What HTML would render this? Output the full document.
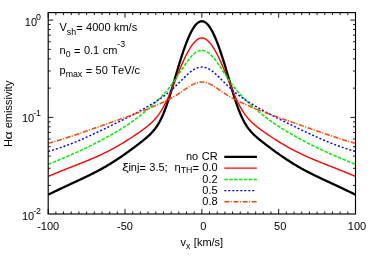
<!DOCTYPE html>
<html><head><meta charset="utf-8"><style>
html,body{margin:0;padding:0;background:#fff;}
svg{display:block;}
text{font-kerning:none;word-spacing:0.4px;font-family:"Liberation Sans",sans-serif;font-size:11.0px;fill:#000;}
.s{font-size:8.8px;}
</style></head><body>
<svg style="will-change:transform" width="374" height="262" viewBox="0 0 374 262">
<rect width="374" height="262" fill="#fff"/>
<clipPath id="c"><rect x="48.2" y="12.6" width="307.3" height="201.4"/></clipPath>
<g clip-path="url(#c)">
<path d="M48.20,194.70 L48.97,194.32 L49.74,193.94 L50.50,193.56 L51.27,193.19 L52.04,192.81 L52.81,192.44 L53.58,192.07 L54.35,191.69 L55.11,191.32 L55.88,190.95 L56.65,190.59 L57.42,190.22 L58.19,189.85 L58.96,189.49 L59.72,189.13 L60.49,188.76 L61.26,188.40 L62.03,188.04 L62.80,187.68 L63.56,187.32 L64.33,186.96 L65.10,186.60 L65.87,186.25 L66.64,185.89 L67.41,185.53 L68.17,185.17 L68.94,184.82 L69.71,184.46 L70.48,184.11 L71.25,183.75 L72.02,183.40 L72.78,183.04 L73.55,182.69 L74.32,182.33 L75.09,181.97 L75.86,181.62 L76.63,181.26 L77.39,180.90 L78.16,180.55 L78.93,180.19 L79.70,179.83 L80.47,179.47 L81.23,179.11 L82.00,178.74 L82.77,178.38 L83.54,178.02 L84.31,177.65 L85.08,177.28 L85.84,176.91 L86.61,176.54 L87.38,176.17 L88.15,175.80 L88.92,175.42 L89.69,175.04 L90.45,174.66 L91.22,174.28 L91.99,173.89 L92.76,173.51 L93.53,173.12 L94.30,172.72 L95.06,172.33 L95.83,171.93 L96.60,171.53 L97.37,171.12 L98.14,170.72 L98.90,170.30 L99.67,169.89 L100.44,169.47 L101.21,169.05 L101.98,168.63 L102.75,168.20 L103.51,167.76 L104.28,167.33 L105.05,166.89 L105.82,166.44 L106.59,166.00 L107.36,165.54 L108.12,165.09 L108.89,164.63 L109.66,164.16 L110.43,163.70 L111.20,163.22 L111.96,162.75 L112.73,162.27 L113.50,161.78 L114.27,161.29 L115.04,160.80 L115.81,160.30 L116.57,159.80 L117.34,159.29 L118.11,158.78 L118.88,158.27 L119.65,157.75 L120.42,157.23 L121.18,156.70 L121.95,156.18 L122.72,155.64 L123.49,155.11 L124.26,154.57 L125.02,154.03 L125.79,153.48 L126.56,152.93 L127.33,152.38 L128.10,151.82 L128.87,151.27 L129.63,150.70 L130.40,150.14 L131.17,149.58 L131.94,149.01 L132.71,148.44 L133.48,147.87 L134.24,147.29 L135.01,146.71 L135.78,146.13 L136.55,145.55 L137.32,144.97 L138.09,144.38 L138.85,143.79 L139.62,143.20 L140.39,142.60 L141.16,142.00 L141.93,141.40 L142.69,140.78 L143.46,140.17 L144.23,139.54 L145.00,138.91 L145.77,138.26 L146.54,137.61 L147.30,136.94 L148.07,136.25 L148.84,135.55 L149.61,134.82 L150.38,134.07 L151.15,133.30 L151.91,132.49 L152.68,131.64 L153.45,130.76 L154.22,129.84 L154.99,128.86 L155.75,127.83 L156.52,126.75 L157.29,125.60 L158.06,124.38 L158.83,123.09 L159.60,121.73 L160.36,120.28 L161.13,118.76 L161.90,117.14 L162.67,115.44 L163.44,113.65 L164.21,111.77 L164.97,109.81 L165.74,107.76 L166.51,105.63 L167.28,103.42 L168.05,101.13 L168.82,98.78 L169.58,96.37 L170.35,93.91 L171.12,91.40 L171.89,88.85 L172.66,86.27 L173.42,83.67 L174.19,81.05 L174.96,78.43 L175.73,75.80 L176.50,73.19 L177.27,70.59 L178.03,68.00 L178.80,65.45 L179.57,62.93 L180.34,60.45 L181.11,58.01 L181.88,55.62 L182.64,53.28 L183.41,51.00 L184.18,48.78 L184.95,46.62 L185.72,44.53 L186.48,42.51 L187.25,40.57 L188.02,38.70 L188.79,36.91 L189.56,35.20 L190.33,33.58 L191.09,32.05 L191.86,30.61 L192.63,29.26 L193.40,28.01 L194.17,26.85 L194.94,25.80 L195.70,24.85 L196.47,24.01 L197.24,23.28 L198.01,22.65 L198.78,22.14 L199.55,21.74 L200.31,21.45 L201.08,21.28 L201.85,21.22 L202.62,21.28 L203.39,21.45 L204.15,21.74 L204.92,22.14 L205.69,22.65 L206.46,23.28 L207.23,24.01 L208.00,24.85 L208.76,25.80 L209.53,26.85 L210.30,28.01 L211.07,29.26 L211.84,30.61 L212.61,32.05 L213.37,33.58 L214.14,35.20 L214.91,36.91 L215.68,38.70 L216.45,40.57 L217.22,42.51 L217.98,44.53 L218.75,46.62 L219.52,48.78 L220.29,51.00 L221.06,53.28 L221.82,55.62 L222.59,58.01 L223.36,60.45 L224.13,62.93 L224.90,65.45 L225.67,68.00 L226.43,70.59 L227.20,73.19 L227.97,75.80 L228.74,78.43 L229.51,81.05 L230.28,83.67 L231.04,86.27 L231.81,88.85 L232.58,91.40 L233.35,93.91 L234.12,96.37 L234.88,98.78 L235.65,101.13 L236.42,103.42 L237.19,105.63 L237.96,107.76 L238.73,109.81 L239.49,111.77 L240.26,113.65 L241.03,115.44 L241.80,117.14 L242.57,118.76 L243.34,120.28 L244.10,121.73 L244.87,123.09 L245.64,124.38 L246.41,125.60 L247.18,126.75 L247.94,127.83 L248.71,128.86 L249.48,129.84 L250.25,130.76 L251.02,131.64 L251.79,132.49 L252.55,133.30 L253.32,134.07 L254.09,134.82 L254.86,135.55 L255.63,136.25 L256.40,136.94 L257.16,137.61 L257.93,138.26 L258.70,138.91 L259.47,139.54 L260.24,140.17 L261.01,140.78 L261.77,141.40 L262.54,142.00 L263.31,142.60 L264.08,143.20 L264.85,143.79 L265.61,144.38 L266.38,144.97 L267.15,145.55 L267.92,146.13 L268.69,146.71 L269.46,147.29 L270.22,147.87 L270.99,148.44 L271.76,149.01 L272.53,149.58 L273.30,150.14 L274.07,150.70 L274.83,151.27 L275.60,151.82 L276.37,152.38 L277.14,152.93 L277.91,153.48 L278.68,154.03 L279.44,154.57 L280.21,155.11 L280.98,155.64 L281.75,156.18 L282.52,156.70 L283.28,157.23 L284.05,157.75 L284.82,158.27 L285.59,158.78 L286.36,159.29 L287.13,159.80 L287.89,160.30 L288.66,160.80 L289.43,161.29 L290.20,161.78 L290.97,162.27 L291.74,162.75 L292.50,163.22 L293.27,163.70 L294.04,164.16 L294.81,164.63 L295.58,165.09 L296.34,165.54 L297.11,166.00 L297.88,166.44 L298.65,166.89 L299.42,167.33 L300.19,167.76 L300.95,168.20 L301.72,168.63 L302.49,169.05 L303.26,169.47 L304.03,169.89 L304.80,170.30 L305.56,170.72 L306.33,171.12 L307.10,171.53 L307.87,171.93 L308.64,172.33 L309.40,172.72 L310.17,173.12 L310.94,173.51 L311.71,173.89 L312.48,174.28 L313.25,174.66 L314.01,175.04 L314.78,175.42 L315.55,175.80 L316.32,176.17 L317.09,176.54 L317.86,176.91 L318.62,177.28 L319.39,177.65 L320.16,178.02 L320.93,178.38 L321.70,178.74 L322.47,179.11 L323.23,179.47 L324.00,179.83 L324.77,180.19 L325.54,180.55 L326.31,180.90 L327.07,181.26 L327.84,181.62 L328.61,181.97 L329.38,182.33 L330.15,182.69 L330.92,183.04 L331.68,183.40 L332.45,183.75 L333.22,184.11 L333.99,184.46 L334.76,184.82 L335.53,185.17 L336.29,185.53 L337.06,185.89 L337.83,186.25 L338.60,186.60 L339.37,186.96 L340.13,187.32 L340.90,187.68 L341.67,188.04 L342.44,188.40 L343.21,188.76 L343.98,189.13 L344.74,189.49 L345.51,189.85 L346.28,190.22 L347.05,190.59 L347.82,190.95 L348.59,191.32 L349.35,191.69 L350.12,192.07 L350.89,192.44 L351.66,192.81 L352.43,193.19 L353.20,193.56 L353.96,193.94 L354.73,194.32 L355.50,194.70" fill="none" stroke="#000000" stroke-width="2.3"/>
<path d="M48.20,176.41 L48.97,176.09 L49.74,175.76 L50.50,175.44 L51.27,175.12 L52.04,174.80 L52.81,174.48 L53.58,174.16 L54.35,173.84 L55.11,173.52 L55.88,173.21 L56.65,172.89 L57.42,172.58 L58.19,172.26 L58.96,171.95 L59.72,171.64 L60.49,171.33 L61.26,171.02 L62.03,170.71 L62.80,170.41 L63.56,170.10 L64.33,169.79 L65.10,169.49 L65.87,169.18 L66.64,168.88 L67.41,168.57 L68.17,168.27 L68.94,167.96 L69.71,167.66 L70.48,167.36 L71.25,167.05 L72.02,166.75 L72.78,166.45 L73.55,166.15 L74.32,165.84 L75.09,165.54 L75.86,165.24 L76.63,164.94 L77.39,164.63 L78.16,164.33 L78.93,164.02 L79.70,163.72 L80.47,163.41 L81.23,163.10 L82.00,162.80 L82.77,162.49 L83.54,162.18 L84.31,161.87 L85.08,161.56 L85.84,161.24 L86.61,160.93 L87.38,160.61 L88.15,160.30 L88.92,159.98 L89.69,159.66 L90.45,159.34 L91.22,159.01 L91.99,158.68 L92.76,158.36 L93.53,158.03 L94.30,157.69 L95.06,157.36 L95.83,157.02 L96.60,156.68 L97.37,156.34 L98.14,155.99 L98.90,155.64 L99.67,155.29 L100.44,154.93 L101.21,154.58 L101.98,154.21 L102.75,153.85 L103.51,153.48 L104.28,153.11 L105.05,152.74 L105.82,152.36 L106.59,151.98 L107.36,151.59 L108.12,151.20 L108.89,150.81 L109.66,150.41 L110.43,150.01 L111.20,149.60 L111.96,149.20 L112.73,148.78 L113.50,148.37 L114.27,147.95 L115.04,147.52 L115.81,147.09 L116.57,146.66 L117.34,146.22 L118.11,145.78 L118.88,145.34 L119.65,144.89 L120.42,144.44 L121.18,143.98 L121.95,143.52 L122.72,143.06 L123.49,142.59 L124.26,142.12 L125.02,141.64 L125.79,141.17 L126.56,140.68 L127.33,140.20 L128.10,139.71 L128.87,139.22 L129.63,138.73 L130.40,138.23 L131.17,137.73 L131.94,137.22 L132.71,136.72 L133.48,136.21 L134.24,135.69 L135.01,135.18 L135.78,134.66 L136.55,134.14 L137.32,133.61 L138.09,133.08 L138.85,132.55 L139.62,132.01 L140.39,131.47 L141.16,130.92 L141.93,130.37 L142.69,129.81 L143.46,129.25 L144.23,128.67 L145.00,128.09 L145.77,127.50 L146.54,126.90 L147.30,126.28 L148.07,125.66 L148.84,125.01 L149.61,124.35 L150.38,123.68 L151.15,122.98 L151.91,122.25 L152.68,121.50 L153.45,120.73 L154.22,119.92 L154.99,119.08 L155.75,118.21 L156.52,117.29 L157.29,116.34 L158.06,115.34 L158.83,114.30 L159.60,113.20 L160.36,112.06 L161.13,110.87 L161.90,109.62 L162.67,108.32 L163.44,106.97 L164.21,105.56 L164.97,104.09 L165.74,102.58 L166.51,101.01 L167.28,99.39 L168.05,97.72 L168.82,96.01 L169.58,94.26 L170.35,92.47 L171.12,90.65 L171.89,88.80 L172.66,86.93 L173.42,85.03 L174.19,83.12 L174.96,81.21 L175.73,79.29 L176.50,77.37 L177.27,75.45 L178.03,73.55 L178.80,71.66 L179.57,69.80 L180.34,67.95 L181.11,66.14 L181.88,64.36 L182.64,62.61 L183.41,60.91 L184.18,59.24 L184.95,57.63 L185.72,56.06 L186.48,54.53 L187.25,53.06 L188.02,51.65 L188.79,50.29 L189.56,48.99 L190.33,47.74 L191.09,46.56 L191.86,45.44 L192.63,44.39 L193.40,43.41 L194.17,42.50 L194.94,41.66 L195.70,40.90 L196.47,40.22 L197.24,39.63 L198.01,39.12 L198.78,38.69 L199.55,38.36 L200.31,38.13 L201.08,37.98 L201.85,37.94 L202.62,37.98 L203.39,38.13 L204.15,38.36 L204.92,38.69 L205.69,39.12 L206.46,39.63 L207.23,40.22 L208.00,40.90 L208.76,41.66 L209.53,42.50 L210.30,43.41 L211.07,44.39 L211.84,45.44 L212.61,46.56 L213.37,47.74 L214.14,48.99 L214.91,50.29 L215.68,51.65 L216.45,53.06 L217.22,54.53 L217.98,56.06 L218.75,57.63 L219.52,59.24 L220.29,60.91 L221.06,62.61 L221.82,64.36 L222.59,66.14 L223.36,67.95 L224.13,69.80 L224.90,71.66 L225.67,73.55 L226.43,75.45 L227.20,77.37 L227.97,79.29 L228.74,81.21 L229.51,83.12 L230.28,85.03 L231.04,86.93 L231.81,88.80 L232.58,90.65 L233.35,92.47 L234.12,94.26 L234.88,96.01 L235.65,97.72 L236.42,99.39 L237.19,101.01 L237.96,102.58 L238.73,104.09 L239.49,105.56 L240.26,106.97 L241.03,108.32 L241.80,109.62 L242.57,110.87 L243.34,112.06 L244.10,113.20 L244.87,114.30 L245.64,115.34 L246.41,116.34 L247.18,117.29 L247.94,118.21 L248.71,119.08 L249.48,119.92 L250.25,120.73 L251.02,121.50 L251.79,122.25 L252.55,122.98 L253.32,123.68 L254.09,124.35 L254.86,125.01 L255.63,125.66 L256.40,126.28 L257.16,126.90 L257.93,127.50 L258.70,128.09 L259.47,128.67 L260.24,129.25 L261.01,129.81 L261.77,130.37 L262.54,130.92 L263.31,131.47 L264.08,132.01 L264.85,132.55 L265.61,133.08 L266.38,133.61 L267.15,134.14 L267.92,134.66 L268.69,135.18 L269.46,135.69 L270.22,136.21 L270.99,136.72 L271.76,137.22 L272.53,137.73 L273.30,138.23 L274.07,138.73 L274.83,139.22 L275.60,139.71 L276.37,140.20 L277.14,140.68 L277.91,141.17 L278.68,141.64 L279.44,142.12 L280.21,142.59 L280.98,143.06 L281.75,143.52 L282.52,143.98 L283.28,144.44 L284.05,144.89 L284.82,145.34 L285.59,145.78 L286.36,146.22 L287.13,146.66 L287.89,147.09 L288.66,147.52 L289.43,147.95 L290.20,148.37 L290.97,148.78 L291.74,149.20 L292.50,149.60 L293.27,150.01 L294.04,150.41 L294.81,150.81 L295.58,151.20 L296.34,151.59 L297.11,151.98 L297.88,152.36 L298.65,152.74 L299.42,153.11 L300.19,153.48 L300.95,153.85 L301.72,154.21 L302.49,154.58 L303.26,154.93 L304.03,155.29 L304.80,155.64 L305.56,155.99 L306.33,156.34 L307.10,156.68 L307.87,157.02 L308.64,157.36 L309.40,157.69 L310.17,158.03 L310.94,158.36 L311.71,158.68 L312.48,159.01 L313.25,159.34 L314.01,159.66 L314.78,159.98 L315.55,160.30 L316.32,160.61 L317.09,160.93 L317.86,161.24 L318.62,161.56 L319.39,161.87 L320.16,162.18 L320.93,162.49 L321.70,162.80 L322.47,163.10 L323.23,163.41 L324.00,163.72 L324.77,164.02 L325.54,164.33 L326.31,164.63 L327.07,164.94 L327.84,165.24 L328.61,165.54 L329.38,165.84 L330.15,166.15 L330.92,166.45 L331.68,166.75 L332.45,167.05 L333.22,167.36 L333.99,167.66 L334.76,167.96 L335.53,168.27 L336.29,168.57 L337.06,168.88 L337.83,169.18 L338.60,169.49 L339.37,169.79 L340.13,170.10 L340.90,170.41 L341.67,170.71 L342.44,171.02 L343.21,171.33 L343.98,171.64 L344.74,171.95 L345.51,172.26 L346.28,172.58 L347.05,172.89 L347.82,173.21 L348.59,173.52 L349.35,173.84 L350.12,174.16 L350.89,174.48 L351.66,174.80 L352.43,175.12 L353.20,175.44 L353.96,175.76 L354.73,176.09 L355.50,176.41" fill="none" stroke="#ff0000" stroke-width="1.4"/>
<path d="M48.20,164.36 L48.97,164.05 L49.74,163.73 L50.50,163.42 L51.27,163.10 L52.04,162.79 L52.81,162.47 L53.58,162.16 L54.35,161.84 L55.11,161.53 L55.88,161.21 L56.65,160.89 L57.42,160.57 L58.19,160.26 L58.96,159.94 L59.72,159.62 L60.49,159.30 L61.26,158.97 L62.03,158.65 L62.80,158.33 L63.56,158.00 L64.33,157.68 L65.10,157.35 L65.87,157.02 L66.64,156.70 L67.41,156.37 L68.17,156.04 L68.94,155.70 L69.71,155.37 L70.48,155.04 L71.25,154.70 L72.02,154.37 L72.78,154.03 L73.55,153.69 L74.32,153.35 L75.09,153.00 L75.86,152.66 L76.63,152.31 L77.39,151.97 L78.16,151.62 L78.93,151.27 L79.70,150.92 L80.47,150.56 L81.23,150.21 L82.00,149.85 L82.77,149.49 L83.54,149.13 L84.31,148.77 L85.08,148.40 L85.84,148.04 L86.61,147.67 L87.38,147.30 L88.15,146.93 L88.92,146.55 L89.69,146.18 L90.45,145.80 L91.22,145.42 L91.99,145.04 L92.76,144.66 L93.53,144.27 L94.30,143.88 L95.06,143.49 L95.83,143.10 L96.60,142.71 L97.37,142.31 L98.14,141.91 L98.90,141.51 L99.67,141.11 L100.44,140.71 L101.21,140.30 L101.98,139.89 L102.75,139.48 L103.51,139.07 L104.28,138.65 L105.05,138.23 L105.82,137.81 L106.59,137.39 L107.36,136.96 L108.12,136.54 L108.89,136.11 L109.66,135.67 L110.43,135.24 L111.20,134.80 L111.96,134.36 L112.73,133.92 L113.50,133.47 L114.27,133.02 L115.04,132.57 L115.81,132.12 L116.57,131.66 L117.34,131.20 L118.11,130.73 L118.88,130.26 L119.65,129.79 L120.42,129.32 L121.18,128.84 L121.95,128.36 L122.72,127.87 L123.49,127.38 L124.26,126.89 L125.02,126.39 L125.79,125.89 L126.56,125.38 L127.33,124.87 L128.10,124.36 L128.87,123.84 L129.63,123.31 L130.40,122.78 L131.17,122.25 L131.94,121.71 L132.71,121.17 L133.48,120.62 L134.24,120.06 L135.01,119.50 L135.78,118.94 L136.55,118.37 L137.32,117.79 L138.09,117.21 L138.85,116.62 L139.62,116.03 L140.39,115.43 L141.16,114.82 L141.93,114.21 L142.69,113.59 L143.46,112.97 L144.23,112.34 L145.00,111.71 L145.77,111.07 L146.54,110.43 L147.30,109.77 L148.07,109.12 L148.84,108.45 L149.61,107.79 L150.38,107.11 L151.15,106.43 L151.91,105.74 L152.68,105.05 L153.45,104.35 L154.22,103.64 L154.99,102.93 L155.75,102.21 L156.52,101.48 L157.29,100.74 L158.06,99.99 L158.83,99.24 L159.60,98.47 L160.36,97.69 L161.13,96.90 L161.90,96.10 L162.67,95.29 L163.44,94.46 L164.21,93.62 L164.97,92.76 L165.74,91.88 L166.51,90.99 L167.28,90.08 L168.05,89.15 L168.82,88.20 L169.58,87.23 L170.35,86.24 L171.12,85.23 L171.89,84.20 L172.66,83.15 L173.42,82.07 L174.19,80.98 L174.96,79.87 L175.73,78.75 L176.50,77.61 L177.27,76.45 L178.03,75.28 L178.80,74.11 L179.57,72.93 L180.34,71.74 L181.11,70.56 L181.88,69.37 L182.64,68.19 L183.41,67.03 L184.18,65.87 L184.95,64.73 L185.72,63.61 L186.48,62.52 L187.25,61.45 L188.02,60.42 L188.79,59.41 L189.56,58.45 L190.33,57.53 L191.09,56.65 L191.86,55.82 L192.63,55.04 L193.40,54.31 L194.17,53.64 L194.94,53.02 L195.70,52.46 L196.47,51.97 L197.24,51.54 L198.01,51.17 L198.78,50.86 L199.55,50.63 L200.31,50.46 L201.08,50.36 L201.85,50.32 L202.62,50.36 L203.39,50.46 L204.15,50.63 L204.92,50.86 L205.69,51.17 L206.46,51.54 L207.23,51.97 L208.00,52.46 L208.76,53.02 L209.53,53.64 L210.30,54.31 L211.07,55.04 L211.84,55.82 L212.61,56.65 L213.37,57.53 L214.14,58.45 L214.91,59.41 L215.68,60.42 L216.45,61.45 L217.22,62.52 L217.98,63.61 L218.75,64.73 L219.52,65.87 L220.29,67.03 L221.06,68.19 L221.82,69.37 L222.59,70.56 L223.36,71.74 L224.13,72.93 L224.90,74.11 L225.67,75.28 L226.43,76.45 L227.20,77.61 L227.97,78.75 L228.74,79.87 L229.51,80.98 L230.28,82.07 L231.04,83.15 L231.81,84.20 L232.58,85.23 L233.35,86.24 L234.12,87.23 L234.88,88.20 L235.65,89.15 L236.42,90.08 L237.19,90.99 L237.96,91.88 L238.73,92.76 L239.49,93.62 L240.26,94.46 L241.03,95.29 L241.80,96.10 L242.57,96.90 L243.34,97.69 L244.10,98.47 L244.87,99.24 L245.64,99.99 L246.41,100.74 L247.18,101.48 L247.94,102.21 L248.71,102.93 L249.48,103.64 L250.25,104.35 L251.02,105.05 L251.79,105.74 L252.55,106.43 L253.32,107.11 L254.09,107.79 L254.86,108.45 L255.63,109.12 L256.40,109.77 L257.16,110.43 L257.93,111.07 L258.70,111.71 L259.47,112.34 L260.24,112.97 L261.01,113.59 L261.77,114.21 L262.54,114.82 L263.31,115.43 L264.08,116.03 L264.85,116.62 L265.61,117.21 L266.38,117.79 L267.15,118.37 L267.92,118.94 L268.69,119.50 L269.46,120.06 L270.22,120.62 L270.99,121.17 L271.76,121.71 L272.53,122.25 L273.30,122.78 L274.07,123.31 L274.83,123.84 L275.60,124.36 L276.37,124.87 L277.14,125.38 L277.91,125.89 L278.68,126.39 L279.44,126.89 L280.21,127.38 L280.98,127.87 L281.75,128.36 L282.52,128.84 L283.28,129.32 L284.05,129.79 L284.82,130.26 L285.59,130.73 L286.36,131.20 L287.13,131.66 L287.89,132.12 L288.66,132.57 L289.43,133.02 L290.20,133.47 L290.97,133.92 L291.74,134.36 L292.50,134.80 L293.27,135.24 L294.04,135.67 L294.81,136.11 L295.58,136.54 L296.34,136.96 L297.11,137.39 L297.88,137.81 L298.65,138.23 L299.42,138.65 L300.19,139.07 L300.95,139.48 L301.72,139.89 L302.49,140.30 L303.26,140.71 L304.03,141.11 L304.80,141.51 L305.56,141.91 L306.33,142.31 L307.10,142.71 L307.87,143.10 L308.64,143.49 L309.40,143.88 L310.17,144.27 L310.94,144.66 L311.71,145.04 L312.48,145.42 L313.25,145.80 L314.01,146.18 L314.78,146.55 L315.55,146.93 L316.32,147.30 L317.09,147.67 L317.86,148.04 L318.62,148.40 L319.39,148.77 L320.16,149.13 L320.93,149.49 L321.70,149.85 L322.47,150.21 L323.23,150.56 L324.00,150.92 L324.77,151.27 L325.54,151.62 L326.31,151.97 L327.07,152.31 L327.84,152.66 L328.61,153.00 L329.38,153.35 L330.15,153.69 L330.92,154.03 L331.68,154.37 L332.45,154.70 L333.22,155.04 L333.99,155.37 L334.76,155.70 L335.53,156.04 L336.29,156.37 L337.06,156.70 L337.83,157.02 L338.60,157.35 L339.37,157.68 L340.13,158.00 L340.90,158.33 L341.67,158.65 L342.44,158.97 L343.21,159.30 L343.98,159.62 L344.74,159.94 L345.51,160.26 L346.28,160.57 L347.05,160.89 L347.82,161.21 L348.59,161.53 L349.35,161.84 L350.12,162.16 L350.89,162.47 L351.66,162.79 L352.43,163.10 L353.20,163.42 L353.96,163.73 L354.73,164.05 L355.50,164.36" fill="none" stroke="#00ee00" stroke-width="1.5" stroke-dasharray="3.5 1.4"/>
<path d="M48.20,151.42 L48.97,151.21 L49.74,150.99 L50.50,150.78 L51.27,150.56 L52.04,150.33 L52.81,150.10 L53.58,149.87 L54.35,149.64 L55.11,149.40 L55.88,149.16 L56.65,148.92 L57.42,148.67 L58.19,148.42 L58.96,148.17 L59.72,147.91 L60.49,147.65 L61.26,147.39 L62.03,147.12 L62.80,146.85 L63.56,146.58 L64.33,146.30 L65.10,146.02 L65.87,145.74 L66.64,145.46 L67.41,145.17 L68.17,144.88 L68.94,144.59 L69.71,144.29 L70.48,144.00 L71.25,143.70 L72.02,143.39 L72.78,143.09 L73.55,142.78 L74.32,142.47 L75.09,142.15 L75.86,141.84 L76.63,141.52 L77.39,141.20 L78.16,140.87 L78.93,140.55 L79.70,140.22 L80.47,139.89 L81.23,139.56 L82.00,139.23 L82.77,138.89 L83.54,138.55 L84.31,138.22 L85.08,137.87 L85.84,137.53 L86.61,137.19 L87.38,136.84 L88.15,136.49 L88.92,136.14 L89.69,135.79 L90.45,135.44 L91.22,135.09 L91.99,134.73 L92.76,134.38 L93.53,134.02 L94.30,133.66 L95.06,133.30 L95.83,132.94 L96.60,132.58 L97.37,132.22 L98.14,131.86 L98.90,131.49 L99.67,131.13 L100.44,130.76 L101.21,130.40 L101.98,130.03 L102.75,129.66 L103.51,129.29 L104.28,128.93 L105.05,128.56 L105.82,128.19 L106.59,127.82 L107.36,127.44 L108.12,127.07 L108.89,126.70 L109.66,126.33 L110.43,125.96 L111.20,125.58 L111.96,125.21 L112.73,124.83 L113.50,124.46 L114.27,124.08 L115.04,123.71 L115.81,123.33 L116.57,122.95 L117.34,122.57 L118.11,122.20 L118.88,121.82 L119.65,121.44 L120.42,121.05 L121.18,120.67 L121.95,120.29 L122.72,119.91 L123.49,119.52 L124.26,119.14 L125.02,118.75 L125.79,118.36 L126.56,117.97 L127.33,117.58 L128.10,117.19 L128.87,116.80 L129.63,116.40 L130.40,116.01 L131.17,115.61 L131.94,115.21 L132.71,114.81 L133.48,114.40 L134.24,114.00 L135.01,113.59 L135.78,113.18 L136.55,112.77 L137.32,112.35 L138.09,111.94 L138.85,111.52 L139.62,111.10 L140.39,110.67 L141.16,110.25 L141.93,109.82 L142.69,109.39 L143.46,108.95 L144.23,108.51 L145.00,108.07 L145.77,107.63 L146.54,107.19 L147.30,106.74 L148.07,106.28 L148.84,105.83 L149.61,105.37 L150.38,104.91 L151.15,104.44 L151.91,103.98 L152.68,103.50 L153.45,103.03 L154.22,102.55 L154.99,102.06 L155.75,101.57 L156.52,101.08 L157.29,100.58 L158.06,100.08 L158.83,99.57 L159.60,99.05 L160.36,98.53 L161.13,98.00 L161.90,97.46 L162.67,96.92 L163.44,96.37 L164.21,95.81 L164.97,95.24 L165.74,94.66 L166.51,94.07 L167.28,93.47 L168.05,92.85 L168.82,92.23 L169.58,91.59 L170.35,90.95 L171.12,90.29 L171.89,89.61 L172.66,88.93 L173.42,88.23 L174.19,87.52 L174.96,86.80 L175.73,86.07 L176.50,85.33 L177.27,84.57 L178.03,83.81 L178.80,83.05 L179.57,82.28 L180.34,81.50 L181.11,80.72 L181.88,79.95 L182.64,79.17 L183.41,78.40 L184.18,77.63 L184.95,76.88 L185.72,76.13 L186.48,75.40 L187.25,74.69 L188.02,73.99 L188.79,73.31 L189.56,72.66 L190.33,72.03 L191.09,71.44 L191.86,70.87 L192.63,70.33 L193.40,69.83 L194.17,69.37 L194.94,68.95 L195.70,68.56 L196.47,68.22 L197.24,67.92 L198.01,67.66 L198.78,67.45 L199.55,67.29 L200.31,67.17 L201.08,67.10 L201.85,67.07 L202.62,67.10 L203.39,67.17 L204.15,67.29 L204.92,67.45 L205.69,67.66 L206.46,67.92 L207.23,68.22 L208.00,68.56 L208.76,68.95 L209.53,69.37 L210.30,69.83 L211.07,70.33 L211.84,70.87 L212.61,71.44 L213.37,72.03 L214.14,72.66 L214.91,73.31 L215.68,73.99 L216.45,74.69 L217.22,75.40 L217.98,76.13 L218.75,76.88 L219.52,77.63 L220.29,78.40 L221.06,79.17 L221.82,79.95 L222.59,80.72 L223.36,81.50 L224.13,82.28 L224.90,83.05 L225.67,83.81 L226.43,84.57 L227.20,85.33 L227.97,86.07 L228.74,86.80 L229.51,87.52 L230.28,88.23 L231.04,88.93 L231.81,89.61 L232.58,90.29 L233.35,90.95 L234.12,91.59 L234.88,92.23 L235.65,92.85 L236.42,93.47 L237.19,94.07 L237.96,94.66 L238.73,95.24 L239.49,95.81 L240.26,96.37 L241.03,96.92 L241.80,97.46 L242.57,98.00 L243.34,98.53 L244.10,99.05 L244.87,99.57 L245.64,100.08 L246.41,100.58 L247.18,101.08 L247.94,101.57 L248.71,102.06 L249.48,102.55 L250.25,103.03 L251.02,103.50 L251.79,103.98 L252.55,104.44 L253.32,104.91 L254.09,105.37 L254.86,105.83 L255.63,106.28 L256.40,106.74 L257.16,107.19 L257.93,107.63 L258.70,108.07 L259.47,108.51 L260.24,108.95 L261.01,109.39 L261.77,109.82 L262.54,110.25 L263.31,110.67 L264.08,111.10 L264.85,111.52 L265.61,111.94 L266.38,112.35 L267.15,112.77 L267.92,113.18 L268.69,113.59 L269.46,114.00 L270.22,114.40 L270.99,114.81 L271.76,115.21 L272.53,115.61 L273.30,116.01 L274.07,116.40 L274.83,116.80 L275.60,117.19 L276.37,117.58 L277.14,117.97 L277.91,118.36 L278.68,118.75 L279.44,119.14 L280.21,119.52 L280.98,119.91 L281.75,120.29 L282.52,120.67 L283.28,121.05 L284.05,121.44 L284.82,121.82 L285.59,122.20 L286.36,122.57 L287.13,122.95 L287.89,123.33 L288.66,123.71 L289.43,124.08 L290.20,124.46 L290.97,124.83 L291.74,125.21 L292.50,125.58 L293.27,125.96 L294.04,126.33 L294.81,126.70 L295.58,127.07 L296.34,127.44 L297.11,127.82 L297.88,128.19 L298.65,128.56 L299.42,128.93 L300.19,129.29 L300.95,129.66 L301.72,130.03 L302.49,130.40 L303.26,130.76 L304.03,131.13 L304.80,131.49 L305.56,131.86 L306.33,132.22 L307.10,132.58 L307.87,132.94 L308.64,133.30 L309.40,133.66 L310.17,134.02 L310.94,134.38 L311.71,134.73 L312.48,135.09 L313.25,135.44 L314.01,135.79 L314.78,136.14 L315.55,136.49 L316.32,136.84 L317.09,137.19 L317.86,137.53 L318.62,137.87 L319.39,138.22 L320.16,138.55 L320.93,138.89 L321.70,139.23 L322.47,139.56 L323.23,139.89 L324.00,140.22 L324.77,140.55 L325.54,140.87 L326.31,141.20 L327.07,141.52 L327.84,141.84 L328.61,142.15 L329.38,142.47 L330.15,142.78 L330.92,143.09 L331.68,143.39 L332.45,143.70 L333.22,144.00 L333.99,144.29 L334.76,144.59 L335.53,144.88 L336.29,145.17 L337.06,145.46 L337.83,145.74 L338.60,146.02 L339.37,146.30 L340.13,146.58 L340.90,146.85 L341.67,147.12 L342.44,147.39 L343.21,147.65 L343.98,147.91 L344.74,148.17 L345.51,148.42 L346.28,148.67 L347.05,148.92 L347.82,149.16 L348.59,149.40 L349.35,149.64 L350.12,149.87 L350.89,150.10 L351.66,150.33 L352.43,150.56 L353.20,150.78 L353.96,150.99 L354.73,151.21 L355.50,151.42" fill="none" stroke="#0000ff" stroke-width="1.45" stroke-dasharray="2.0 2.0"/>
<path d="M48.20,143.33 L48.97,143.12 L49.74,142.90 L50.50,142.69 L51.27,142.47 L52.04,142.25 L52.81,142.03 L53.58,141.81 L54.35,141.58 L55.11,141.35 L55.88,141.13 L56.65,140.90 L57.42,140.67 L58.19,140.43 L58.96,140.20 L59.72,139.96 L60.49,139.73 L61.26,139.49 L62.03,139.25 L62.80,139.01 L63.56,138.77 L64.33,138.52 L65.10,138.28 L65.87,138.03 L66.64,137.78 L67.41,137.53 L68.17,137.28 L68.94,137.03 L69.71,136.78 L70.48,136.52 L71.25,136.27 L72.02,136.01 L72.78,135.76 L73.55,135.50 L74.32,135.24 L75.09,134.98 L75.86,134.72 L76.63,134.46 L77.39,134.20 L78.16,133.94 L78.93,133.67 L79.70,133.41 L80.47,133.15 L81.23,132.88 L82.00,132.61 L82.77,132.35 L83.54,132.08 L84.31,131.81 L85.08,131.55 L85.84,131.28 L86.61,131.01 L87.38,130.74 L88.15,130.47 L88.92,130.20 L89.69,129.93 L90.45,129.66 L91.22,129.39 L91.99,129.12 L92.76,128.85 L93.53,128.58 L94.30,128.31 L95.06,128.04 L95.83,127.77 L96.60,127.50 L97.37,127.23 L98.14,126.96 L98.90,126.69 L99.67,126.42 L100.44,126.14 L101.21,125.87 L101.98,125.60 L102.75,125.33 L103.51,125.06 L104.28,124.79 L105.05,124.52 L105.82,124.25 L106.59,123.98 L107.36,123.71 L108.12,123.44 L108.89,123.17 L109.66,122.90 L110.43,122.63 L111.20,122.36 L111.96,122.09 L112.73,121.82 L113.50,121.55 L114.27,121.29 L115.04,121.02 L115.81,120.75 L116.57,120.48 L117.34,120.21 L118.11,119.94 L118.88,119.67 L119.65,119.40 L120.42,119.12 L121.18,118.85 L121.95,118.58 L122.72,118.31 L123.49,118.04 L124.26,117.76 L125.02,117.49 L125.79,117.22 L126.56,116.94 L127.33,116.67 L128.10,116.39 L128.87,116.11 L129.63,115.84 L130.40,115.56 L131.17,115.28 L131.94,114.99 L132.71,114.71 L133.48,114.43 L134.24,114.14 L135.01,113.86 L135.78,113.57 L136.55,113.28 L137.32,112.99 L138.09,112.70 L138.85,112.41 L139.62,112.11 L140.39,111.81 L141.16,111.52 L141.93,111.22 L142.69,110.91 L143.46,110.61 L144.23,110.31 L145.00,110.00 L145.77,109.69 L146.54,109.38 L147.30,109.07 L148.07,108.75 L148.84,108.44 L149.61,108.12 L150.38,107.80 L151.15,107.48 L151.91,107.15 L152.68,106.83 L153.45,106.50 L154.22,106.17 L154.99,105.84 L155.75,105.51 L156.52,105.18 L157.29,104.84 L158.06,104.50 L158.83,104.16 L159.60,103.82 L160.36,103.47 L161.13,103.12 L161.90,102.77 L162.67,102.42 L163.44,102.06 L164.21,101.70 L164.97,101.33 L165.74,100.96 L166.51,100.58 L167.28,100.20 L168.05,99.82 L168.82,99.42 L169.58,99.02 L170.35,98.62 L171.12,98.20 L171.89,97.78 L172.66,97.35 L173.42,96.91 L174.19,96.47 L174.96,96.01 L175.73,95.55 L176.50,95.07 L177.27,94.59 L178.03,94.10 L178.80,93.60 L179.57,93.09 L180.34,92.58 L181.11,92.05 L181.88,91.53 L182.64,91.00 L183.41,90.47 L184.18,89.94 L184.95,89.40 L185.72,88.88 L186.48,88.35 L187.25,87.83 L188.02,87.32 L188.79,86.83 L189.56,86.34 L190.33,85.87 L191.09,85.42 L191.86,84.99 L192.63,84.58 L193.40,84.19 L194.17,83.83 L194.94,83.50 L195.70,83.19 L196.47,82.92 L197.24,82.69 L198.01,82.48 L198.78,82.31 L199.55,82.18 L200.31,82.09 L201.08,82.03 L201.85,82.01 L202.62,82.03 L203.39,82.09 L204.15,82.18 L204.92,82.31 L205.69,82.48 L206.46,82.69 L207.23,82.92 L208.00,83.19 L208.76,83.50 L209.53,83.83 L210.30,84.19 L211.07,84.58 L211.84,84.99 L212.61,85.42 L213.37,85.87 L214.14,86.34 L214.91,86.83 L215.68,87.32 L216.45,87.83 L217.22,88.35 L217.98,88.88 L218.75,89.40 L219.52,89.94 L220.29,90.47 L221.06,91.00 L221.82,91.53 L222.59,92.05 L223.36,92.58 L224.13,93.09 L224.90,93.60 L225.67,94.10 L226.43,94.59 L227.20,95.07 L227.97,95.55 L228.74,96.01 L229.51,96.47 L230.28,96.91 L231.04,97.35 L231.81,97.78 L232.58,98.20 L233.35,98.62 L234.12,99.02 L234.88,99.42 L235.65,99.82 L236.42,100.20 L237.19,100.58 L237.96,100.96 L238.73,101.33 L239.49,101.70 L240.26,102.06 L241.03,102.42 L241.80,102.77 L242.57,103.12 L243.34,103.47 L244.10,103.82 L244.87,104.16 L245.64,104.50 L246.41,104.84 L247.18,105.18 L247.94,105.51 L248.71,105.84 L249.48,106.17 L250.25,106.50 L251.02,106.83 L251.79,107.15 L252.55,107.48 L253.32,107.80 L254.09,108.12 L254.86,108.44 L255.63,108.75 L256.40,109.07 L257.16,109.38 L257.93,109.69 L258.70,110.00 L259.47,110.31 L260.24,110.61 L261.01,110.91 L261.77,111.22 L262.54,111.52 L263.31,111.81 L264.08,112.11 L264.85,112.41 L265.61,112.70 L266.38,112.99 L267.15,113.28 L267.92,113.57 L268.69,113.86 L269.46,114.14 L270.22,114.43 L270.99,114.71 L271.76,114.99 L272.53,115.28 L273.30,115.56 L274.07,115.84 L274.83,116.11 L275.60,116.39 L276.37,116.67 L277.14,116.94 L277.91,117.22 L278.68,117.49 L279.44,117.76 L280.21,118.04 L280.98,118.31 L281.75,118.58 L282.52,118.85 L283.28,119.12 L284.05,119.40 L284.82,119.67 L285.59,119.94 L286.36,120.21 L287.13,120.48 L287.89,120.75 L288.66,121.02 L289.43,121.29 L290.20,121.55 L290.97,121.82 L291.74,122.09 L292.50,122.36 L293.27,122.63 L294.04,122.90 L294.81,123.17 L295.58,123.44 L296.34,123.71 L297.11,123.98 L297.88,124.25 L298.65,124.52 L299.42,124.79 L300.19,125.06 L300.95,125.33 L301.72,125.60 L302.49,125.87 L303.26,126.14 L304.03,126.42 L304.80,126.69 L305.56,126.96 L306.33,127.23 L307.10,127.50 L307.87,127.77 L308.64,128.04 L309.40,128.31 L310.17,128.58 L310.94,128.85 L311.71,129.12 L312.48,129.39 L313.25,129.66 L314.01,129.93 L314.78,130.20 L315.55,130.47 L316.32,130.74 L317.09,131.01 L317.86,131.28 L318.62,131.55 L319.39,131.81 L320.16,132.08 L320.93,132.35 L321.70,132.61 L322.47,132.88 L323.23,133.15 L324.00,133.41 L324.77,133.67 L325.54,133.94 L326.31,134.20 L327.07,134.46 L327.84,134.72 L328.61,134.98 L329.38,135.24 L330.15,135.50 L330.92,135.76 L331.68,136.01 L332.45,136.27 L333.22,136.52 L333.99,136.78 L334.76,137.03 L335.53,137.28 L336.29,137.53 L337.06,137.78 L337.83,138.03 L338.60,138.28 L339.37,138.52 L340.13,138.77 L340.90,139.01 L341.67,139.25 L342.44,139.49 L343.21,139.73 L343.98,139.96 L344.74,140.20 L345.51,140.43 L346.28,140.67 L347.05,140.90 L347.82,141.13 L348.59,141.35 L349.35,141.58 L350.12,141.81 L350.89,142.03 L351.66,142.25 L352.43,142.47 L353.20,142.69 L353.96,142.90 L354.73,143.12 L355.50,143.33" fill="none" stroke="#ff4500" stroke-width="1.5" stroke-dasharray="5.1 1.3 1.1 1.6"/>
</g>
<path d="M224.3,156.9 H256.9" fill="none" stroke="#000000" stroke-width="2.3"/>
<path d="M224.3,168.1 H256.9" fill="none" stroke="#ff0000" stroke-width="1.4"/>
<path d="M224.3,179.4 H256.9" fill="none" stroke="#00ee00" stroke-width="1.5" stroke-dasharray="3.5 1.4"/>
<path d="M224.3,190.6 H254.5" fill="none" stroke="#0000ff" stroke-width="1.45" stroke-dasharray="2.0 2.0"/>
<path d="M224.3,201.8 H256.9" fill="none" stroke="#ff4500" stroke-width="1.5" stroke-dasharray="5.1 1.3 1.1 1.6"/>

<path d="M48.20,214.0 v-5.1 M48.20,12.6 v5.1" stroke="#000" stroke-width="0.9"/>
<path d="M55.88,214.0 v-2.5 M55.88,12.6 v2.5" stroke="#000" stroke-width="0.9"/>
<path d="M63.56,214.0 v-2.5 M63.56,12.6 v2.5" stroke="#000" stroke-width="0.9"/>
<path d="M71.25,214.0 v-2.5 M71.25,12.6 v2.5" stroke="#000" stroke-width="0.9"/>
<path d="M78.93,214.0 v-2.5 M78.93,12.6 v2.5" stroke="#000" stroke-width="0.9"/>
<path d="M86.61,214.0 v-2.5 M86.61,12.6 v2.5" stroke="#000" stroke-width="0.9"/>
<path d="M94.30,214.0 v-2.5 M94.30,12.6 v2.5" stroke="#000" stroke-width="0.9"/>
<path d="M101.98,214.0 v-2.5 M101.98,12.6 v2.5" stroke="#000" stroke-width="0.9"/>
<path d="M109.66,214.0 v-2.5 M109.66,12.6 v2.5" stroke="#000" stroke-width="0.9"/>
<path d="M117.34,214.0 v-2.5 M117.34,12.6 v2.5" stroke="#000" stroke-width="0.9"/>
<path d="M125.02,214.0 v-5.1 M125.02,12.6 v5.1" stroke="#000" stroke-width="0.9"/>
<path d="M132.71,214.0 v-2.5 M132.71,12.6 v2.5" stroke="#000" stroke-width="0.9"/>
<path d="M140.39,214.0 v-2.5 M140.39,12.6 v2.5" stroke="#000" stroke-width="0.9"/>
<path d="M148.07,214.0 v-2.5 M148.07,12.6 v2.5" stroke="#000" stroke-width="0.9"/>
<path d="M155.75,214.0 v-2.5 M155.75,12.6 v2.5" stroke="#000" stroke-width="0.9"/>
<path d="M163.44,214.0 v-2.5 M163.44,12.6 v2.5" stroke="#000" stroke-width="0.9"/>
<path d="M171.12,214.0 v-2.5 M171.12,12.6 v2.5" stroke="#000" stroke-width="0.9"/>
<path d="M178.80,214.0 v-2.5 M178.80,12.6 v2.5" stroke="#000" stroke-width="0.9"/>
<path d="M186.48,214.0 v-2.5 M186.48,12.6 v2.5" stroke="#000" stroke-width="0.9"/>
<path d="M194.17,214.0 v-2.5 M194.17,12.6 v2.5" stroke="#000" stroke-width="0.9"/>
<path d="M201.85,214.0 v-5.1 M201.85,12.6 v5.1" stroke="#000" stroke-width="0.9"/>
<path d="M209.53,214.0 v-2.5 M209.53,12.6 v2.5" stroke="#000" stroke-width="0.9"/>
<path d="M217.22,214.0 v-2.5 M217.22,12.6 v2.5" stroke="#000" stroke-width="0.9"/>
<path d="M224.90,214.0 v-2.5 M224.90,12.6 v2.5" stroke="#000" stroke-width="0.9"/>
<path d="M232.58,214.0 v-2.5 M232.58,12.6 v2.5" stroke="#000" stroke-width="0.9"/>
<path d="M240.26,214.0 v-2.5 M240.26,12.6 v2.5" stroke="#000" stroke-width="0.9"/>
<path d="M247.94,214.0 v-2.5 M247.94,12.6 v2.5" stroke="#000" stroke-width="0.9"/>
<path d="M255.63,214.0 v-2.5 M255.63,12.6 v2.5" stroke="#000" stroke-width="0.9"/>
<path d="M263.31,214.0 v-2.5 M263.31,12.6 v2.5" stroke="#000" stroke-width="0.9"/>
<path d="M270.99,214.0 v-2.5 M270.99,12.6 v2.5" stroke="#000" stroke-width="0.9"/>
<path d="M278.68,214.0 v-5.1 M278.68,12.6 v5.1" stroke="#000" stroke-width="0.9"/>
<path d="M286.36,214.0 v-2.5 M286.36,12.6 v2.5" stroke="#000" stroke-width="0.9"/>
<path d="M294.04,214.0 v-2.5 M294.04,12.6 v2.5" stroke="#000" stroke-width="0.9"/>
<path d="M301.72,214.0 v-2.5 M301.72,12.6 v2.5" stroke="#000" stroke-width="0.9"/>
<path d="M309.40,214.0 v-2.5 M309.40,12.6 v2.5" stroke="#000" stroke-width="0.9"/>
<path d="M317.09,214.0 v-2.5 M317.09,12.6 v2.5" stroke="#000" stroke-width="0.9"/>
<path d="M324.77,214.0 v-2.5 M324.77,12.6 v2.5" stroke="#000" stroke-width="0.9"/>
<path d="M332.45,214.0 v-2.5 M332.45,12.6 v2.5" stroke="#000" stroke-width="0.9"/>
<path d="M340.13,214.0 v-2.5 M340.13,12.6 v2.5" stroke="#000" stroke-width="0.9"/>
<path d="M347.82,214.0 v-2.5 M347.82,12.6 v2.5" stroke="#000" stroke-width="0.9"/>
<path d="M355.50,214.0 v-5.1 M355.50,12.6 v5.1" stroke="#000" stroke-width="0.9"/>
<path d="M48.2,185.41 h2.5 M355.5,185.41 h-2.5" stroke="#000" stroke-width="0.9"/>
<path d="M48.2,168.28 h2.5 M355.5,168.28 h-2.5" stroke="#000" stroke-width="0.9"/>
<path d="M48.2,156.12 h2.5 M355.5,156.12 h-2.5" stroke="#000" stroke-width="0.9"/>
<path d="M48.2,146.69 h2.5 M355.5,146.69 h-2.5" stroke="#000" stroke-width="0.9"/>
<path d="M48.2,138.99 h2.5 M355.5,138.99 h-2.5" stroke="#000" stroke-width="0.9"/>
<path d="M48.2,132.47 h2.5 M355.5,132.47 h-2.5" stroke="#000" stroke-width="0.9"/>
<path d="M48.2,126.83 h2.5 M355.5,126.83 h-2.5" stroke="#000" stroke-width="0.9"/>
<path d="M48.2,121.85 h2.5 M355.5,121.85 h-2.5" stroke="#000" stroke-width="0.9"/>
<path d="M48.2,117.40 h5.1 M355.5,117.40 h-5.1" stroke="#000" stroke-width="0.9"/>
<path d="M48.2,88.11 h2.5 M355.5,88.11 h-2.5" stroke="#000" stroke-width="0.9"/>
<path d="M48.2,70.98 h2.5 M355.5,70.98 h-2.5" stroke="#000" stroke-width="0.9"/>
<path d="M48.2,58.82 h2.5 M355.5,58.82 h-2.5" stroke="#000" stroke-width="0.9"/>
<path d="M48.2,49.39 h2.5 M355.5,49.39 h-2.5" stroke="#000" stroke-width="0.9"/>
<path d="M48.2,41.69 h2.5 M355.5,41.69 h-2.5" stroke="#000" stroke-width="0.9"/>
<path d="M48.2,35.17 h2.5 M355.5,35.17 h-2.5" stroke="#000" stroke-width="0.9"/>
<path d="M48.2,29.53 h2.5 M355.5,29.53 h-2.5" stroke="#000" stroke-width="0.9"/>
<path d="M48.2,24.55 h2.5 M355.5,24.55 h-2.5" stroke="#000" stroke-width="0.9"/>
<path d="M48.2,20.10 h5.1 M355.5,20.10 h-5.1" stroke="#000" stroke-width="0.9"/>

<rect x="48.2" y="12.6" width="307.30" height="201.40" fill="none" stroke="#000" stroke-width="1.15"/>
<text x="59.5" y="31">V<tspan class="s" dy="4.2">sh</tspan><tspan dy="-3">=</tspan><tspan dy="-1.2"> 4000 km/s</tspan></text>
<text x="59.5" y="53.5">n<tspan class="s" dy="3.6">0</tspan><tspan dy="-2.4"> =</tspan><tspan dy="-1.2"> 0.1 cm</tspan><tspan class="s" dy="-6.8">-3</tspan></text>
<text x="59.5" y="73.5">p<tspan class="s" dy="3.6">max</tspan><tspan dy="-2.4"> =</tspan><tspan dy="-1.2"> 50 TeV/c</tspan></text>
<text x="41.0" y="25.5" text-anchor="end">10<tspan class="s" dx="-1" dy="-6">0</tspan></text>
<text x="41.0" y="122.4" text-anchor="end">10<tspan class="s" dx="-1" dy="-6">-1</tspan></text>
<text x="41.0" y="219.7" text-anchor="end">10<tspan class="s" dx="-1" dy="-6">-2</tspan></text>
<text x="48.2" y="230" text-anchor="middle">-100</text>
<text x="125" y="230" text-anchor="middle">-50</text>
<text x="203.2" y="230" text-anchor="middle">0</text>
<text x="280.2" y="230" text-anchor="middle">50</text>
<text x="357" y="230" text-anchor="middle">100</text>
<text x="201.85" y="246" text-anchor="middle">v<tspan class="s" dy="3">x</tspan><tspan dy="-3"> [km/s]</tspan></text>
<text transform="translate(12,147.1) rotate(-90)">H</text>
<text transform="translate(12,139.4) rotate(-90) scale(1.28,0.93)">&#945;</text>
<text transform="translate(12,80.6) rotate(-90)" text-anchor="end">emissivity</text>
<text x="217.6" y="160" text-anchor="end">no CR</text>
<text transform="translate(121.9,171) scale(1.4,1)">&#958;</text>
<text x="217.6" y="171" text-anchor="end" xml:space="preserve">inj<tspan dy="1.2">=</tspan><tspan dy="-1.2"> 3.5;  &#951;</tspan><tspan class="s" dy="2.4">TH</tspan><tspan dy="-1.2">=</tspan><tspan dy="-1.2"> 0.0</tspan></text>
<text x="217.6" y="182.5" text-anchor="end">0.2</text>
<text x="217.6" y="194" text-anchor="end">0.5</text>
<text x="217.6" y="205.2" text-anchor="end">0.8</text>
</svg>
</body></html>
